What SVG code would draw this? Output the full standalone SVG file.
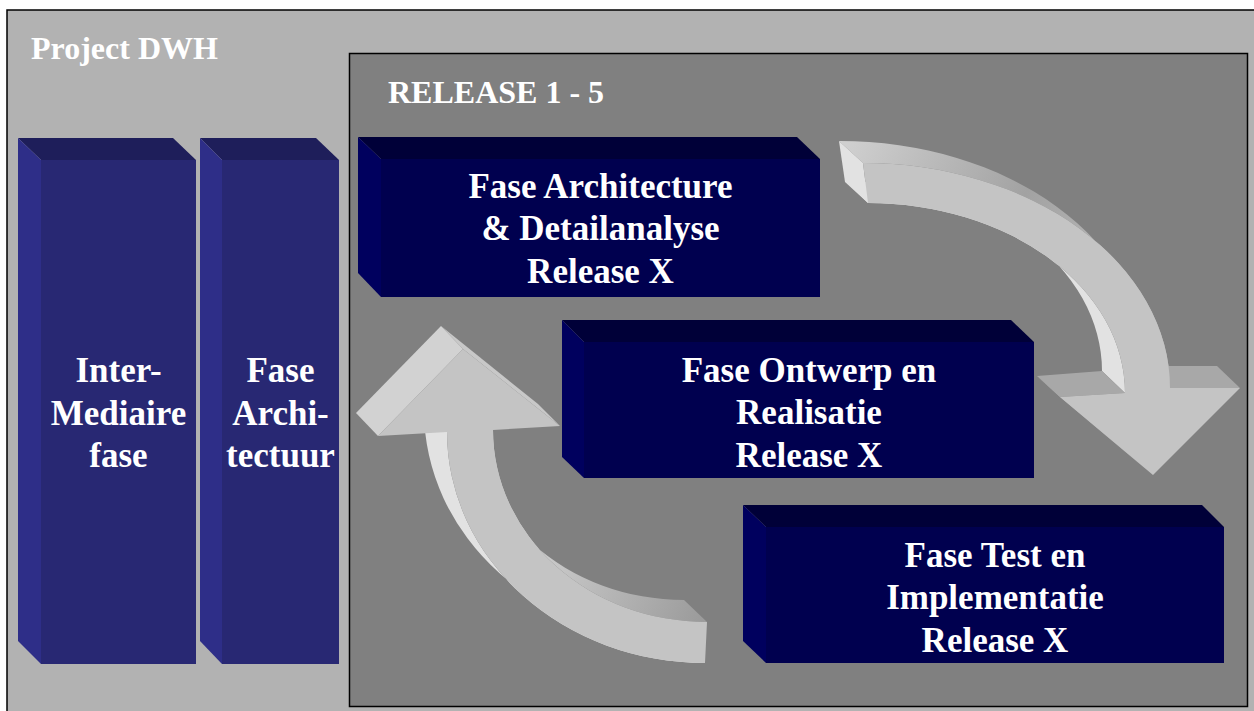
<svg xmlns="http://www.w3.org/2000/svg" width="1254" height="711" viewBox="0 0 1254 711">
<defs>
<style>
.t{font-family:"Liberation Serif","Times New Roman",serif;font-weight:bold;fill:#ffffff;}
.h{font-size:32px;}
.n{font-size:35px;text-anchor:middle;}
.cTop{fill:#1e1e5a;}
.cSide{fill:#2e2e88;}
.cFront{fill:#282873;}
.bTop{fill:#000038;}
.bSide{fill:#00005e;}
.bFront{fill:#00004f;}
.aFront{fill:#c4c4c4;}
.aLight{fill:#e2e2e2;}
.aWing{fill:#a8a8a8;}
</style>
<linearGradient id="gR" gradientUnits="userSpaceOnUse" x1="845" y1="150" x2="1110" y2="290">
<stop offset="0" stop-color="#cfcfcf"/>
<stop offset="0.6" stop-color="#a2a2a2"/>
<stop offset="1" stop-color="#b8b8b8"/>
</linearGradient>
<linearGradient id="gL" gradientUnits="userSpaceOnUse" x1="700" y1="615" x2="530" y2="540">
<stop offset="0" stop-color="#9c9c9c"/>
<stop offset="1" stop-color="#d0d0d0"/>
</linearGradient>
</defs>

<g id="background">
<rect x="7" y="10" width="1260" height="710" fill="#b2b2b2" stroke="#000000" stroke-width="1.5"/>
<text class="t h" x="31" y="59">Project DWH</text>
</g>

<g id="release-frame">
<rect x="349.5" y="53.5" width="898" height="653" fill="#808080" stroke="#000000" stroke-width="1.5"/>
<text class="t h" x="388" y="103">RELEASE 1 - 5</text>
</g>

<g id="col-intermediaire">
<polygon class="cTop" points="18,138 173,138 196,160 41,160"/>
<polygon class="cSide" points="18,138 41,160 41,664 18,641"/>
<rect class="cFront" x="41" y="160" width="155" height="504"/>
<text class="t n" x="118.5" y="382">Inter-</text>
<text class="t n" x="118.5" y="425">Mediaire</text>
<text class="t n" x="118.5" y="467">fase</text>
</g>

<g id="col-architectuur">
<polygon class="cTop" points="200,138 316,138 339,160 222,160"/>
<polygon class="cSide" points="200,138 222,160 222,664 200,641"/>
<rect class="cFront" x="222" y="160" width="117" height="504"/>
<text class="t n" x="280.5" y="382">Fase</text>
<text class="t n" x="280.5" y="425">Archi-</text>
<text class="t n" x="280.5" y="467">tectuur</text>
</g>

<g id="connectors">
<g id="arrow-down">
<path fill="url(#gR)" d="M 839,141 A 307 225 0 0 1 1147 366 L 1170 388 A 307 225 0 0 0 863 163 Z"/>
<path class="aLight" d="M 868,203 A 257 190 0 0 1 1125 393 L 1102 371 A 257 190 0 0 0 845 181 Z"/>
<polygon class="aLight" points="839,141 863,163 868,203 845,182"/>
<polygon class="aWing" points="1037,376 1102,371 1125,393 1060,397"/>
<polygon class="aWing" points="1037,376 1060,397 1153,475"/>
<polygon class="aWing" points="1147,366 1217,366 1240,388 1170,388"/>
<path class="aFront" d="M 863,163 A 307 225 0 0 1 1170 388 L 1240 388 L 1153 475 L 1060 397 L 1125 393 A 257 190 0 0 0 868 203 Z"/>
</g>
<g id="arrow-up">
<path fill="url(#gL)" d="M 493,430 A 214 192 0 0 0 707 622 L 684 600 A 214 192 0 0 1 470 408 Z"/>
<path class="aLight" d="M 447,432 A 258 231 0 0 0 705 663 L 682 641 A 258 231 0 0 1 424 410 Z"/>
<polygon fill="#d2d2d2" points="356,413 441,326 463,349 378,436"/>
<polygon fill="#c8c8c8" points="441,326 538,404 560,426 463,349"/>
<path class="aFront" d="M 378,436 L 463,349 L 560,426 L 493,430 A 214 192 0 0 0 707 622 L 705 663 A 258 231 0 0 1 447 432 Z"/>
</g>
</g>

<g id="box-architecture">
<polygon class="bTop" points="358,137 797,137 820,159 381,159"/>
<polygon class="bSide" points="358,137 381,159 381,297 358,273"/>
<rect class="bFront" x="381" y="159" width="439" height="138"/>
<text class="t n" x="600.5" y="198">Fase Architecture</text>
<text class="t n" x="600.5" y="240">&amp; Detailanalyse</text>
<text class="t n" x="600.5" y="283">Release X</text>
</g>

<g id="box-ontwerp">
<polygon class="bTop" points="562,320 1011,320 1034,342 584,342"/>
<polygon class="bSide" points="562,320 584,342 584,478 562,457"/>
<rect class="bFront" x="584" y="342" width="450" height="136"/>
<text class="t n" x="809" y="382">Fase Ontwerp en</text>
<text class="t n" x="809" y="424">Realisatie</text>
<text class="t n" x="809" y="467">Release X</text>
</g>

<g id="box-test">
<polygon class="bTop" points="743,505 1202,505 1224,527 766,527"/>
<polygon class="bSide" points="743,505 766,527 766,663 743,641"/>
<rect class="bFront" x="766" y="527" width="458" height="136"/>
<text class="t n" x="995" y="567">Fase Test en</text>
<text class="t n" x="995" y="609">Implementatie</text>
<text class="t n" x="995" y="652">Release X</text>
</g>
</svg>
